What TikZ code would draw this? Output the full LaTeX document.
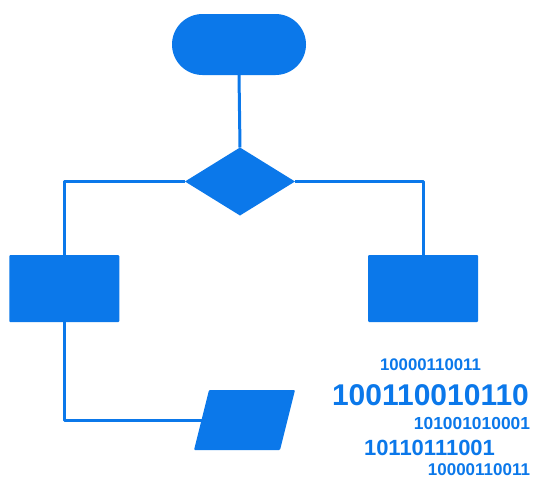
\documentclass[tikz,border=0pt]{standalone}
\usepackage{fontspec}
\setmainfont{Liberation Sans}
\usetikzlibrary{shapes.geometric}
\definecolor{flowblue}{HTML}{0B78EA}
\tikzset{
  shapefill/.style={fill=flowblue, draw=none, inner sep=0pt, outer sep=0pt},
  procbox/.style={shapefill, rectangle, rounded corners=1pt, minimum width=110pt, minimum height=67pt},
  link/.style={draw=flowblue, line width=3pt},
  bits/.style={text=flowblue, inner sep=0pt, font=\bfseries},
}
\begin{document}
\begin{tikzpicture}[x=1pt, y=-1pt]
  \useasboundingbox (0,0) rectangle (533,479);
  % flowchart shapes
  \node[shapefill, rectangle, rounded corners=30.5pt, minimum width=134pt, minimum height=61pt] (start) at (239,44.5) {};
  \node[shapefill, diamond, minimum width=110pt, minimum height=68pt] (decide) at (240,181.5) {};
  \node[procbox] (left) at (64.25,288.5) {};
  \node[procbox] (right) at (423,288.5) {};
  % input/output: a slanted box
  \begin{scope}[shift={(244.5,420)}, xslant=0.25]
    \node[shapefill, transform shape, rectangle, rounded corners=1pt, minimum width=86pt, minimum height=60pt] (io) at (0,0) {};
  \end{scope}
  % connectors
  \draw[link] (start.south) -- (decide.north);
  \draw[link, line join=round] (decide.west) -| (left.north);
  \draw[link, line join=round] (decide.east) -| (right.north);
  \draw[link, line join=round] (left.south) |- (io.west);
  % binary digits
  \node[bits, font=\bfseries\fontsize{16.8}{17}\selectfont] (b1) at (430.5,365) {10000110011};
  \node[bits, font=\bfseries\fontsize{30}{30}\selectfont] (b2) at (430.5,395) {100110010110};
  \node[bits, font=\bfseries\fontsize{17.4}{18}\selectfont] (b3) at (472,424) {101001010001};
  \node[bits, font=\bfseries\fontsize{22}{22}\selectfont] (b4) at (429.5,448) {10110111001};
  \node[bits, font=\bfseries\fontsize{17}{17}\selectfont] (b5) at (479,470) {10000110011};
\end{tikzpicture}
\end{document}
